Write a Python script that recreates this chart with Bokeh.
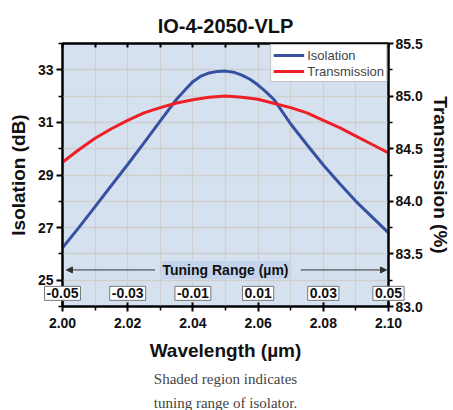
from bokeh.plotting import figure
from bokeh.models import (Range1d, LinearAxis, FixedTicker, Legend, LegendItem, Label,
                          Arrow, NormalHead, Title, NumeralTickFormatter, ColumnDataSource)
from bokeh.embed import file_html
from bokeh.resources import INLINE
from bokeh.core.properties import value

# ---- data ----
wavelength_iso = [2.000, 2.005, 2.010, 2.015, 2.020, 2.025, 2.030,
                  2.0350, 2.0375, 2.0400, 2.0425, 2.0450, 2.0475, 2.0500,
                  2.0525, 2.0550, 2.0575, 2.0600, 2.0625, 2.0650,
                  2.070, 2.075, 2.080, 2.085, 2.090, 2.095, 2.100]
isolation_db = [26.23, 27.00, 27.80, 28.60, 29.40, 30.22, 31.06,
                31.88, 32.22, 32.55, 32.76, 32.88, 32.94, 32.95,
                32.91, 32.80, 32.64, 32.42, 32.15, 31.85,
                30.94, 30.15, 29.38, 28.68, 28.00, 27.40, 26.80]

wavelength_tr = [2.000, 2.005, 2.010, 2.015, 2.020, 2.025, 2.030, 2.035, 2.040, 2.045, 2.050,
                 2.055, 2.060, 2.065, 2.070, 2.075, 2.080, 2.085, 2.090, 2.095, 2.100]
transmission_pct = [84.37, 84.49, 84.60, 84.69, 84.77, 84.84, 84.89, 84.935, 84.965, 84.99, 85.00,
                    84.99, 84.97, 84.93, 84.89, 84.84, 84.77, 84.70, 84.62, 84.54, 84.46]

center_wavelength = 2.05
tuning_offsets = [-0.05, -0.03, -0.01, 0.01, 0.03, 0.05]
tuning_labels = ["-0.05", "-0.03", "-0.01", "0.01", "0.03", "0.05"]

x_major = [2.00, 2.02, 2.04, 2.06, 2.08, 2.10]
x_minor = [2.01, 2.03, 2.05, 2.07, 2.09]
iso_major = [25, 27, 29, 31, 33]
iso_minor = [24, 26, 28, 30, 32, 34]
tr_major = [83.0, 83.5, 84.0, 84.5, 85.0, 85.5]
tr_minor = [83.25, 83.75, 84.25, 84.75, 85.25]
x_grid = [2.00, 2.01, 2.02, 2.03, 2.04, 2.05, 2.06, 2.07, 2.08, 2.09, 2.10]
y_grid = [24, 25, 26, 27, 28, 29, 30, 31, 32, 33, 34]

FONT = "Liberation Sans"
BLUE = "#3651a2"
RED = "#ee1f27"

p = figure(width=453, height=410, x_range=Range1d(2.0, 2.1), y_range=Range1d(24, 34),
           output_backend="svg", toolbar_location=None,
           min_border_left=62, min_border_right=64, min_border_top=43, min_border_bottom=100)
p.background_fill_color = "#d6e1f0"
p.border_fill_color = "white"
p.outline_line_color = "black"
p.outline_line_width = 2

p.title.text = "IO-4-2050-VLP"
p.title.align = "center"
p.title.text_font = FONT
p.title.text_font_size = "20px"
p.title.text_font_style = "bold"
p.title.text_color = "#111111"
p.title.standoff = 14

p.extra_y_ranges = {"tr": Range1d(83.0, 85.5)}

def style_axis(ax, tick_out=6, tick_in=0):
    ax.axis_line_width = 2
    ax.axis_line_color = "black"
    ax.major_tick_line_width = 2
    ax.minor_tick_line_width = 1.5
    ax.major_tick_out = tick_out
    ax.major_tick_in = tick_in
    ax.minor_tick_out = 4
    ax.minor_tick_in = 0
    ax.major_label_text_font = FONT
    ax.major_label_text_font_size = "14px"
    ax.major_label_text_font_style = "bold"
    ax.major_label_text_color = "#111111"
    ax.major_label_standoff = 3
    ax.axis_label_text_font = FONT
    ax.axis_label_text_font_size = "19px"
    ax.axis_label_text_font_style = "bold"
    ax.axis_label_text_color = "#111111"

xa = p.xaxis[0]
xa.ticker = FixedTicker(ticks=x_major, minor_ticks=x_minor)
xa.formatter = NumeralTickFormatter(format="0.00")
xa.axis_label = "Wavelength (µm)"
style_axis(xa, tick_out=5, tick_in=4)
xa.major_label_standoff = 6
xa.axis_label_standoff = 9

ya = p.yaxis[0]
ya.ticker = FixedTicker(ticks=iso_major, minor_ticks=iso_minor)
ya.axis_label = "Isolation (dB)"
style_axis(ya)
ya.axis_label_standoff = 6

ra = LinearAxis(y_range_name="tr", ticker=FixedTicker(ticks=tr_major, minor_ticks=tr_minor),
                formatter=NumeralTickFormatter(format="0.0"), axis_label="Transmission (%)")
style_axis(ra, tick_out=5)
ra.major_label_standoff = 2
ra.axis_label_standoff = 4
p.add_layout(ra, "right")

# top mirror axis: inward ticks only, no labels
ta = LinearAxis(ticker=FixedTicker(ticks=[], minor_ticks=x_major + x_minor))
style_axis(ta, tick_out=0, tick_in=0)
ta.minor_tick_in = 4
ta.minor_tick_out = 0
ta.minor_tick_line_width = 2
ta.major_label_standoff = 0
p.add_layout(ta, "above")

p.xgrid.ticker = FixedTicker(ticks=x_grid)
p.ygrid.ticker = FixedTicker(ticks=y_grid)
for g in (p.xgrid[0], p.ygrid[0]):
    g.grid_line_color = "#cfcfcf"
    g.grid_line_width = 1.3

r_iso = p.line(wavelength_iso, isolation_db, line_color=BLUE, line_width=3)
r_tr = p.line(wavelength_tr, transmission_pct, y_range_name="tr", line_color=RED, line_width=3)

legend = Legend(items=[LegendItem(label="Isolation", renderers=[r_iso]),
                       LegendItem(label="Transmission", renderers=[r_tr])],
                location="top_right", margin=1, padding=2, spacing=0,
                glyph_width=31, glyph_height=16, label_height=16, label_standoff=3,
                label_text_font=FONT, label_text_font_size="13px",
                border_line_color="#888888", border_line_width=1,
                background_fill_color="white", background_fill_alpha=1)
p.add_layout(legend)

# Tuning range annotation
tuning_y = 25.39
p.add_layout(Label(x=center_wavelength, y=tuning_y, text="Tuning Range (µm)",
                   text_align="center", text_baseline="middle",
                   text_font=FONT, text_font_size="14px", text_font_style="bold",
                   text_color="#111111", background_fill_color="#c4d4ec", padding=1))
p.add_layout(Arrow(end=NormalHead(size=6, fill_color="#333333", line_color="#333333"),
                   x_start=2.0284, y_start=tuning_y, x_end=2.0012, y_end=tuning_y,
                   line_color="#333333", line_width=1))
p.add_layout(Arrow(end=NormalHead(size=6, fill_color="#333333", line_color="#333333"),
                   x_start=2.0731, y_start=tuning_y, x_end=2.0994, y_end=tuning_y,
                   line_color="#333333", line_width=1))

# boxed tuning offset labels (overlay level so they may extend past the frame)
src = ColumnDataSource(dict(x=[center_wavelength + o for o in tuning_offsets], text=tuning_labels))
p.text(x="x", y=24.5, text="text", source=src, level="overlay",
       text_align="center", text_baseline="middle",
       text_font=value(FONT), text_font_size="14px", text_font_style="bold",
       text_color="#111111", background_fill_color="white",
       border_line_color="#777777", border_line_width=1, padding=2)

# caption
caption_lines = ["Shaded region indicates", "tuning range of isolator."]
for line, so in zip(caption_lines, [11, 0]):
    p.add_layout(Title(text=line, align="center", text_font="Liberation Serif",
                       text_font_size="15px", text_font_style="normal", text_color="#444444",
                       standoff=so), "below")

open("out.html", "w").write(file_html(p, INLINE))
